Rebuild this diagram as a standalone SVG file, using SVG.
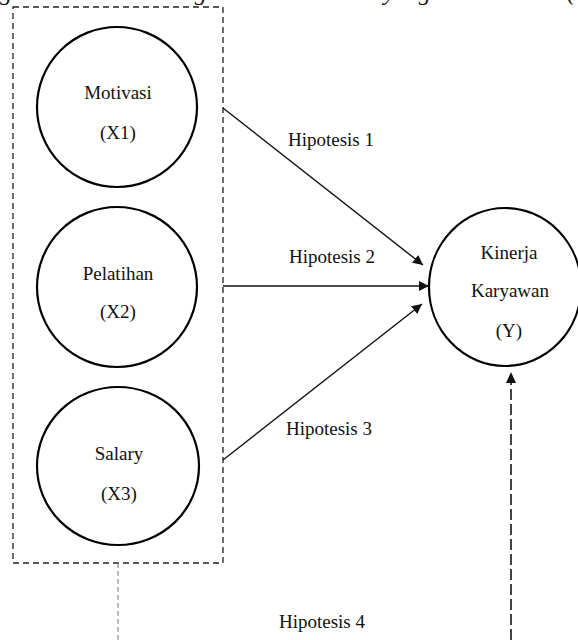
<svg xmlns="http://www.w3.org/2000/svg" width="578" height="640" viewBox="0 0 578 640">
<style>
text{font-family:"Liberation Serif","Times New Roman",serif;fill:#111;}
.lbl{font-size:19px;text-anchor:middle;}
.node{fill:#fff;stroke:#000;stroke-width:2.2;}
.conn{stroke:#111;stroke-width:1.4;fill:none;}
.top{font-size:24px;font-style:italic;}
</style>
<defs>
<marker id="ah" viewBox="0 0 10 10" refX="10" refY="5" markerWidth="10" markerHeight="10" markerUnits="userSpaceOnUse" orient="auto">
<path d="M0,0 L10,5 L0,10 z" fill="#111"/>
</marker>
</defs>
<g id="caption">
<text class="top" x="0" y="0">g</text>
<text class="top" x="160" y="0">dengan</text>
<text class="top" x="384" y="0">yang</text>
<text class="top" x="567" y="0">(</text>
</g>
<g id="group-box">
<rect x="13" y="7" width="210" height="556" fill="none" stroke="#222" stroke-width="1.3" stroke-dasharray="6,4"/>
</g>
<g id="node-x1">
<ellipse class="node" cx="117" cy="107" rx="80" ry="80"/>
<text class="lbl" x="118" y="99">Motivasi</text>
<text class="lbl" x="118" y="139">(X1)</text>
</g>
<g id="node-x2">
<ellipse class="node" cx="117" cy="287" rx="80" ry="80"/>
<text class="lbl" x="118" y="280">Pelatihan</text>
<text class="lbl" x="118" y="318">(X2)</text>
</g>
<g id="node-x3">
<ellipse class="node" cx="118" cy="466" rx="81" ry="79"/>
<text class="lbl" x="119" y="460">Salary</text>
<text class="lbl" x="119" y="500">(X3)</text>
</g>
<g id="node-y">
<ellipse class="node" cx="505" cy="287" rx="76" ry="79"/>
<text class="lbl" x="509" y="259">Kinerja</text>
<text class="lbl" x="510" y="297">Karyawan</text>
<text class="lbl" x="509" y="337">(Y)</text>
</g>
<g id="connectors">
<line class="conn" x1="223" y1="108" x2="423" y2="265" marker-end="url(#ah)"/>
<line class="conn" x1="223" y1="286" x2="429" y2="286" marker-end="url(#ah)"/>
<line class="conn" x1="223" y1="460" x2="422" y2="304" marker-end="url(#ah)"/>
<line x1="118" y1="563" x2="118" y2="640" stroke="#777" stroke-width="1" stroke-dasharray="5,3"/>
<line x1="511" y1="640" x2="511" y2="382" stroke="#222" stroke-width="1.7" stroke-dasharray="11,4"/>
<path d="M511,372 L506,383 L516,383 z" fill="#111"/>
<text class="lbl" x="331" y="146">Hipotesis 1</text>
<text class="lbl" x="332" y="263">Hipotesis 2</text>
<text class="lbl" x="329" y="435">Hipotesis 3</text>
<text class="lbl" x="322" y="628">Hipotesis 4</text>
</g>
</svg>
